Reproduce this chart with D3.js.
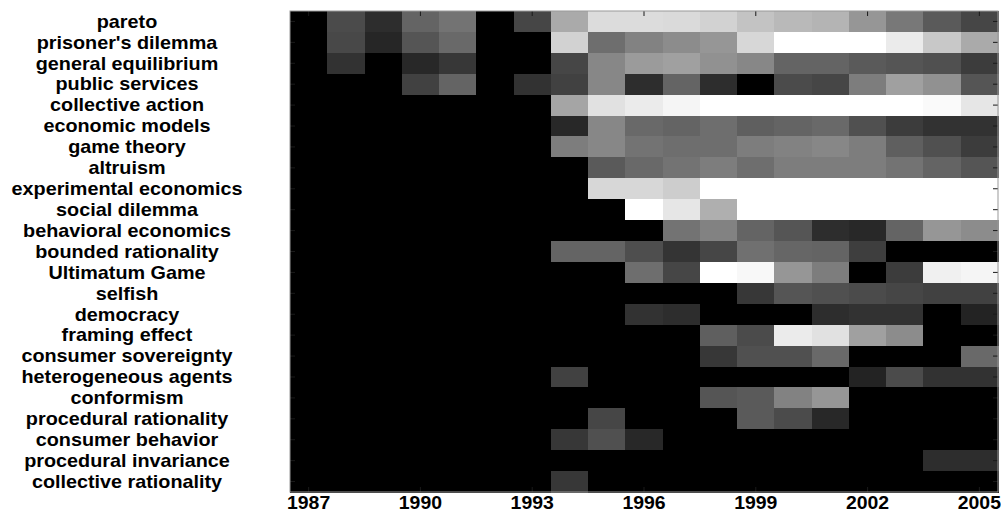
<!DOCTYPE html>
<html>
<head>
<meta charset="utf-8">
<script src="https://cdn.jsdelivr.net/npm/d3@7"></script>
<style>
  body { margin: 0; background: #fff; }
  text { font-family: "Liberation Sans", Arial, sans-serif; font-weight: bold; fill: #000; }
</style>
</head>
<body>
<div id="chart"></div>
<script>
// keywords, top to bottom
const keywords = [
  "pareto", "prisoner's dilemma", "general equilibrium", "public services",
  "collective action", "economic models", "game theory", "altruism",
  "experimental economics", "social dilemma", "behavioral economics",
  "bounded rationality", "Ultimatum Game", "selfish", "democracy",
  "framing effect", "consumer sovereignty", "heterogeneous agents",
  "conformism", "procedural rationality", "consumer behavior",
  "procedural invariance", "collective rationality"
];

const years = d3.range(1987, 2006);
const yearTicks = [1987, 1990, 1993, 1996, 1999, 2002, 2005];

// gray level per keyword, one value per year 1987..2005 (0 = black, 255 = white)
const intensity = [
  [0, 75, 45, 100, 115, 0, 70, 170, 220, 220, 218, 210, 195, 185, 180, 150, 120, 90, 70],
  [0, 72, 38, 85, 105, 0, 0, 210, 110, 130, 140, 150, 215, 255, 255, 255, 235, 200, 170],
  [0, 50, 0, 40, 55, 0, 0, 70, 135, 155, 160, 145, 135, 100, 100, 90, 85, 80, 60],
  [0, 0, 0, 65, 100, 0, 50, 65, 135, 45, 100, 45, 0, 75, 70, 125, 160, 145, 85],
  [0, 0, 0, 0, 0, 0, 0, 165, 225, 235, 245, 255, 255, 255, 255, 255, 255, 250, 230],
  [0, 0, 0, 0, 0, 0, 0, 40, 135, 105, 100, 110, 95, 100, 105, 80, 60, 50, 50],
  [0, 0, 0, 0, 0, 0, 0, 125, 135, 115, 110, 110, 125, 130, 135, 125, 95, 80, 60],
  [0, 0, 0, 0, 0, 0, 0, 0, 90, 105, 115, 125, 110, 125, 125, 125, 115, 100, 85],
  [0, 0, 0, 0, 0, 0, 0, 0, 215, 215, 205, 255, 255, 255, 255, 255, 255, 255, 255],
  [0, 0, 0, 0, 0, 0, 0, 0, 0, 255, 230, 175, 255, 255, 255, 255, 255, 255, 255],
  [0, 0, 0, 0, 0, 0, 0, 0, 0, 0, 115, 130, 100, 85, 45, 40, 100, 150, 140],
  [0, 0, 0, 0, 0, 0, 0, 100, 100, 78, 52, 70, 112, 102, 100, 62, 0, 0, 0],
  [0, 0, 0, 0, 0, 0, 0, 0, 0, 110, 70, 255, 248, 150, 125, 0, 60, 240, 245],
  [0, 0, 0, 0, 0, 0, 0, 0, 0, 0, 0, 0, 55, 85, 80, 75, 70, 65, 65],
  [0, 0, 0, 0, 0, 0, 0, 0, 0, 50, 45, 0, 0, 0, 45, 50, 50, 0, 35],
  [0, 0, 0, 0, 0, 0, 0, 0, 0, 0, 0, 95, 75, 235, 225, 160, 140, 0, 0],
  [0, 0, 0, 0, 0, 0, 0, 0, 0, 0, 0, 55, 80, 80, 105, 0, 0, 0, 105],
  [0, 0, 0, 0, 0, 0, 0, 65, 0, 0, 0, 0, 0, 0, 0, 35, 75, 50, 50],
  [0, 0, 0, 0, 0, 0, 0, 0, 0, 0, 0, 85, 90, 130, 150, 0, 0, 0, 0],
  [0, 0, 0, 0, 0, 0, 0, 0, 70, 0, 0, 0, 90, 75, 40, 0, 0, 0, 0],
  [0, 0, 0, 0, 0, 0, 0, 55, 80, 40, 0, 0, 0, 0, 0, 0, 0, 0, 0],
  [0, 0, 0, 0, 0, 0, 0, 0, 0, 0, 0, 0, 0, 0, 0, 0, 0, 45, 45],
  [0, 0, 0, 0, 0, 0, 0, 55, 0, 0, 0, 0, 0, 0, 0, 0, 0, 0, 0]
];

const W = 1001, H = 513;
const margin = {top: 11, right: 3, bottom: 21, left: 290};
const width = W - margin.left - margin.right;
const height = H - margin.top - margin.bottom;

const svg = d3.select("#chart").append("svg")
  .attr("width", W)
  .attr("height", H);

const g = svg.append("g")
  .attr("transform", "translate(" + margin.left + "," + margin.top + ")");

const x = d3.scaleBand().domain(years).range([0, width]);
const y = d3.scaleBand().domain(keywords).range([0, height]);
const gray = d3.scaleLinear().domain([0, 255]).range(["#000", "#fff"]);

// cells
const cells = [];
keywords.forEach((k, i) => {
  years.forEach((yr, j) => {
    cells.push({k: k, yr: yr, v: intensity[i][j]});
  });
});

g.selectAll(".cell")
  .data(cells)
  .enter().append("rect")
  .attr("class", "cell")
  .attr("x", d => x(d.yr))
  .attr("y", d => y(d.k))
  .attr("width", x.bandwidth() + 0.6)
  .attr("height", y.bandwidth() + 0.6)
  .attr("shape-rendering", "crispEdges")
  .attr("fill", d => gray(d.v));

// inward ticks, matlab style
const tickLen = 5;
const tickColor = "#1a1a1a";
yearTicks.forEach(yr => {
  const cx = x(yr) + x.bandwidth() / 2;
  g.append("line").attr("x1", cx).attr("x2", cx).attr("y1", 0).attr("y2", tickLen)
    .attr("stroke", tickColor).attr("stroke-width", 1);
  g.append("line").attr("x1", cx).attr("x2", cx).attr("y1", height).attr("y2", height - tickLen)
    .attr("stroke", tickColor).attr("stroke-width", 1);
});
keywords.forEach(k => {
  const cy = y(k) + y.bandwidth() / 2;
  g.append("line").attr("x1", width).attr("x2", width - tickLen).attr("y1", cy).attr("y2", cy)
    .attr("stroke", tickColor).attr("stroke-width", 1);
  g.append("line").attr("x1", 0).attr("x2", tickLen).attr("y1", cy).attr("y2", cy)
    .attr("stroke", tickColor).attr("stroke-width", 1);
});

// frame
g.append("rect")
  .attr("width", width).attr("height", height)
  .attr("fill", "none")
  .attr("stroke", "#999")
  .attr("stroke-width", 1);

// keyword labels
svg.selectAll(".klabel")
  .data(keywords)
  .enter().append("text")
  .attr("class", "klabel")
  .attr("text-anchor", "middle")
  .attr("dy", "0.35em")
  .attr("font-size", 18)
  .attr("transform", d => "translate(127," + (margin.top + y(d) + y.bandwidth() / 2) + ") scale(1.1,1)")
  .text(d => d);

// year labels
svg.selectAll(".ylabel")
  .data(yearTicks)
  .enter().append("text")
  .attr("class", "ylabel")
  .attr("text-anchor", "middle")
  .attr("font-size", 18)
  .attr("transform", d => "translate(" + (margin.left + x(d) + x.bandwidth() / 2) + "," + (H - 4) + ") scale(1.08,1)")
  .text(d => d);
</script>
</body>
</html>
